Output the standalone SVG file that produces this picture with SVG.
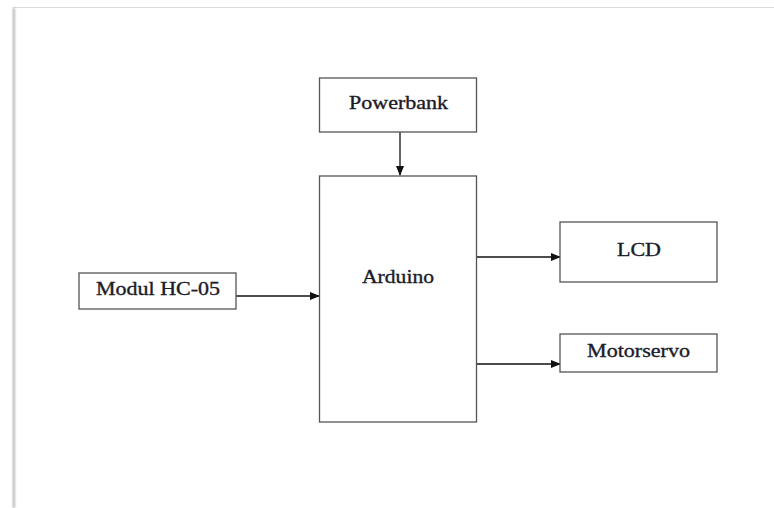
<svg xmlns="http://www.w3.org/2000/svg" width="774" height="508" viewBox="0 0 774 508">
<style>
.box{fill:#fff;stroke:#555;stroke-width:1.3}
.lbl{font-family:"Liberation Serif",serif;font-size:19px;fill:#1b1b2a;stroke:#1b1b2a;stroke-width:0.35}
.con{stroke:#111;stroke-width:1.3;fill:none}
</style>
<defs>
<marker id="ah" markerWidth="10" markerHeight="8" refX="9" refY="4" orient="auto" markerUnits="userSpaceOnUse">
<path d="M0,0 L10,4 L0,8 Z" fill="#111"/>
</marker>
<filter id="sh" x="-2" y="-0.1" width="5" height="1.2"><feGaussianBlur stdDeviation="0.8"/></filter>
</defs>
<rect width="774" height="508" fill="#fff"/>
<g id="frame">
<line x1="13" y1="7.5" x2="774" y2="7.5" stroke="#dcdcdc" stroke-width="1"/>
<rect x="13" y="8" width="1.6" height="500" fill="#9a9a9a" filter="url(#sh)"/>
</g>
<g id="connectors">
<line class="con" x1="400" y1="132" x2="400" y2="175" marker-end="url(#ah)"/>
<line class="con" x1="236" y1="296" x2="319" y2="296" marker-end="url(#ah)"/>
<line class="con" x1="477" y1="257" x2="560" y2="257" marker-end="url(#ah)"/>
<line class="con" x1="477" y1="364" x2="560" y2="364" marker-end="url(#ah)"/>
</g>
<g id="powerbank">
<rect class="box" x="319.5" y="78" width="157" height="54"/>
<text class="lbl" x="349" y="109" textLength="99" lengthAdjust="spacingAndGlyphs">Powerbank</text>
</g>
<g id="arduino">
<rect class="box" x="319.5" y="176" width="157" height="246"/>
<text class="lbl" x="362" y="283" textLength="72" lengthAdjust="spacingAndGlyphs">Arduino</text>
</g>
<g id="modul">
<rect class="box" x="79" y="273" width="157" height="36"/>
<text class="lbl" x="96" y="295" textLength="124" lengthAdjust="spacingAndGlyphs">Modul HC-05</text>
</g>
<g id="lcd">
<rect class="box" x="560" y="222" width="157" height="60"/>
<text class="lbl" x="617" y="256" textLength="44" lengthAdjust="spacingAndGlyphs">LCD</text>
</g>
<g id="motorservo">
<rect class="box" x="560" y="334" width="157" height="38"/>
<text class="lbl" x="587" y="357" textLength="103" lengthAdjust="spacingAndGlyphs">Motorservo</text>
</g>
</svg>
